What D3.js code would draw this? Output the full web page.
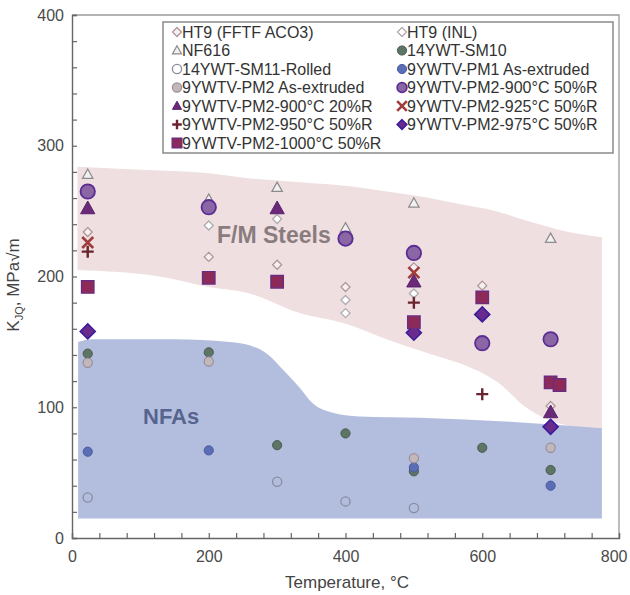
<!DOCTYPE html>
<html>
<head>
<meta charset="utf-8">
<script src="https://cdn.jsdelivr.net/npm/d3@7"></script>
<style>
  html, body { margin: 0; padding: 0; background: #fff; }
  svg { display: block; font-family: "Liberation Sans", Arial, sans-serif; }
</style>
</head>
<body>
<svg id="chart" width="630" height="595"></svg>
<script>
// ---------- DATA ----------
const xTicksMajor = [0, 200, 400, 600, 800];
const yTicksMajor = [0, 100, 200, 300, 400];

const seriesNames = [
  "HT9 (FFTF ACO3)", "HT9 (INL)",
  "NF616", "14YWT-SM10",
  "14YWT-SM11-Rolled", "9YWTV-PM1 As-extruded",
  "9YWTV-PM2 As-extruded", "9YWTV-PM2-900°C 50%R",
  "9YWTV-PM2-900°C 20%R", "9YWTV-PM2-925°C 50%R",
  "9YWTV-PM2-950°C 50%R", "9YWTV-PM2-975°C 50%R",
  "9YWTV-PM2-1000°C 50%R"
];

// [temperature °C, K_JQ MPa√m]
const ht9FFTF   = [[23,234],[200,215],[300,209],[400,192],[500,207],[600,193],[700,101]];
const ht9INL    = [[200,239],[300,244],[400,182],[400,172],[500,187]];
const nf616     = [[23,278],[200,259],[300,268],[400,237],[500,256],[700,229]];
const sm10      = [[23,141],[200,142],[300,71],[400,80],[500,51],[600,69],[700,52]];
const sm11      = [[23,31],[300,43],[400,28],[500,23]];
const pm1       = [[23,66],[200,67],[500,54],[700,40]];
const pm2AsExt  = [[23,134],[200,135],[500,61],[700,69]];
const pm2_900_50 = [[23,265],[200,253],[400,229],[500,218],[600,149],[700,152]];
const pm2_900_20 = [[23,252],[300,252],[500,196],[700,96]];
const pm2_925_50 = [[23,226],[500,203]];
const pm2_950_50 = [[23,219],[500,180],[600,110]];
const pm2_975_50 = [[23,158],[500,157],[600,171],[700,85]];
const pm2_1000_50 = [[23,192],[200,199],[300,196],[500,165],[600,184],[700,119],[713,117]];

// scatter bands: [temperature, lower, upper]
const fmBand = [[8,205,284],[128,200,281],[200,192,279],[260,187,275],[333,172,272],[406,163,269],
                [460,152,265],[523,141,260],[570,133,255],[620,120,250],[669,98,242],[710,88,236],[775,83,230]];
const nfaBand = [[9,15,150],[30,15,152],[150,15,152],[230,15,150],[262,15,147],[285,15,141],[310,15,128],
                 [333,15,115],[352,15,103],[380,15,96],[420,15,93],[508,15,92],[640,15,89],[775,15,84]];

const bandLabels = [["F/M Steels", 217, 243], ["NFAs", 143, 424]];

// ---------- STYLES (not data) ----------
const seriesData = [ht9FFTF, ht9INL, nf616, sm10, sm11, pm1, pm2AsExt,
  pm2_900_50, pm2_900_20, pm2_925_50, pm2_950_50, pm2_975_50, pm2_1000_50];

const styles = [
  {shape:"diamond", s:4.5, fill:"#f6f0f0", stroke:"#b0969a", sw:1.3},
  {shape:"diamond", s:4.5, fill:"#ffffff", stroke:"#acacb2", sw:1.3},
  {shape:"triangle", s:5.5, fill:"#f2f0f0", stroke:"#8c8a8c", sw:1.2},
  {shape:"circle", s:4.6, fill:"#5c7564", stroke:"#4a5c52", sw:1},
  {shape:"circle", s:4.6, fill:"none", stroke:"#8a8ca0", sw:1.3},
  {shape:"circle", s:4.6, fill:"#5b6db5", stroke:"#4a5aa2", sw:1},
  {shape:"circle", s:4.6, fill:"#c2b8bc", stroke:"#9a8e98", sw:1.2},
  {shape:"circle", s:7.2, fill:"#8a66a4", stroke:"#5b2c94", sw:1.8},
  {shape:"triangle", s:7.5, fill:"#6a2a78", stroke:"#5a2070", sw:1},
  {shape:"x", s:5.5, fill:"none", stroke:"#a03c3c", sw:2.6},
  {shape:"plus", s:6, fill:"none", stroke:"#6a2430", sw:2.4},
  {shape:"diamond", s:7.5, fill:"#6a2c8c", stroke:"#3c1c9c", sw:1.6},
  {shape:"square", s:6.2, fill:"#8e2a58", stroke:"#6a2c80", sw:1.4}
];

const legendStyles = styles.map(st => Object.assign({}, st, {s: Math.min(st.s, 4.8)}));

function shapePath(shape, s) {
  switch (shape) {
    case "diamond": return `M0,${-s}L${s},0L0,${s}L${-s},0Z`;
    case "triangle": return `M0,${-s}L${s*0.95},${s*0.7}L${-s*0.95},${s*0.7}Z`;
    case "square": return `M${-s},${-s}H${s}V${s}H${-s}Z`;
    case "plus": return `M${-s},0H${s}M0,${-s}V${s}`;
    case "x": return `M${-s},${-s}L${s},${s}M${s},${-s}L${-s},${s}`;
  }
  return "";
}

function drawMarker(g, st, x, y) {
  if (st.shape === "circle") {
    g.append("circle").attr("cx", x).attr("cy", y).attr("r", st.s)
      .attr("fill", st.fill).attr("stroke", st.stroke).attr("stroke-width", st.sw);
  } else {
    g.append("path").attr("transform", `translate(${x},${y})`).attr("d", shapePath(st.shape, st.s))
      .attr("fill", st.fill).attr("stroke", st.stroke).attr("stroke-width", st.sw)
      .attr("stroke-linejoin", "miter");
  }
}

// ---------- CHART ----------
const svg = d3.select("#chart");
const X0 = 72, X1 = 619, Y0 = 538, Y1 = 15;
const x = d3.scaleLinear().domain([0, 800]).range([X0, X1]);
const y = d3.scaleLinear().domain([0, 400]).range([Y0, Y1]);

// bands
const area = d3.area().x(d => x(d[0])).y0(d => y(d[1])).y1(d => y(d[2])).curve(d3.curveMonotoneX);
svg.append("path").datum(fmBand).attr("d", area).attr("fill", "#efdfe0");
svg.append("path").datum(nfaBand).attr("d", area).attr("fill", "#b3bedf");

// band labels
svg.append("text").attr("x", bandLabels[0][1]).attr("y", bandLabels[0][2])
  .text(bandLabels[0][0]).attr("font-size", 23).attr("font-weight", "bold").attr("fill", "#8a7c7e");
svg.append("text").attr("x", bandLabels[1][1]).attr("y", bandLabels[1][2])
  .text(bandLabels[1][0]).attr("font-size", 22).attr("font-weight", "bold").attr("fill", "#56648e");

// frame (top/right)
svg.append("path").attr("d", `M${X0},${Y1}H${X1}V${Y0}`).attr("fill", "none")
  .attr("stroke", "#9a9a9a").attr("stroke-width", 1.3);

// axes
const yAxis = d3.axisLeft(y).tickValues(d3.range(0, 401, 20)).tickSize(-5).tickPadding(8)
  .tickFormat(d => yTicksMajor.includes(d) ? d : "");
const xAxis = d3.axisBottom(x).tickValues(d3.range(0, 801, 40)).tickSize(-5).tickPadding(9)
  .tickFormat(d => xTicksMajor.includes(d) ? d : "");

const gy = svg.append("g").attr("transform", `translate(${X0},0)`).call(yAxis);
const gx = svg.append("g").attr("transform", `translate(0,${Y0})`).call(xAxis);
[gx, gy].forEach(g => {
  g.select(".domain").attr("stroke", "#666").attr("stroke-width", 1.4);
  g.selectAll(".tick line").attr("stroke", "#666").attr("stroke-width", 1.2);
  g.selectAll(".tick text").attr("font-size", 16).attr("fill", "#4a4a4a")
    .attr("font-family", "'Liberation Sans', Arial, sans-serif");
});
gx.selectAll(".tick text").attr("dy", "0.95em");
// keep the last x label inside the page
gx.selectAll(".tick text").filter(d => d === 800).attr("text-anchor", "end").attr("dx", 8);

// axis titles
svg.append("text").attr("x", 347).attr("y", 588).attr("text-anchor", "middle")
  .attr("font-size", 17).attr("fill", "#444").text("Temperature, °C");
const yt = svg.append("text").attr("transform", "translate(19,285) rotate(-90)")
  .attr("text-anchor", "middle").attr("font-size", 17).attr("fill", "#444");
yt.append("tspan").text("K");
yt.append("tspan").text("JQ").attr("font-size", 11).attr("dy", 4);
yt.append("tspan").text(", MPa√m").attr("dy", -4);

// markers
const mg = svg.append("g");
seriesData.forEach((arr, i) => {
  arr.forEach(d => drawMarker(mg, styles[i], x(d[0]), y(d[1])));
});

// legend
const lg = svg.append("g");
lg.append("rect").attr("x", 163).attr("y", 22).attr("width", 450).attr("height", 131)
  .attr("fill", "#fff").attr("stroke", "#8a8a8a").attr("stroke-width", 1.5);
seriesNames.forEach((name, i) => {
  const col = i % 2, row = Math.floor(i / 2);
  const mx = col === 0 ? 177 : 402;
  const my = 32 + row * 18.5;
  drawMarker(lg, legendStyles[i], mx, my);
  lg.append("text").attr("x", mx + 5).attr("y", my + 5.5).attr("font-size", 16)
    .attr("fill", "#333").text(name);
});
</script>
</body>
</html>
